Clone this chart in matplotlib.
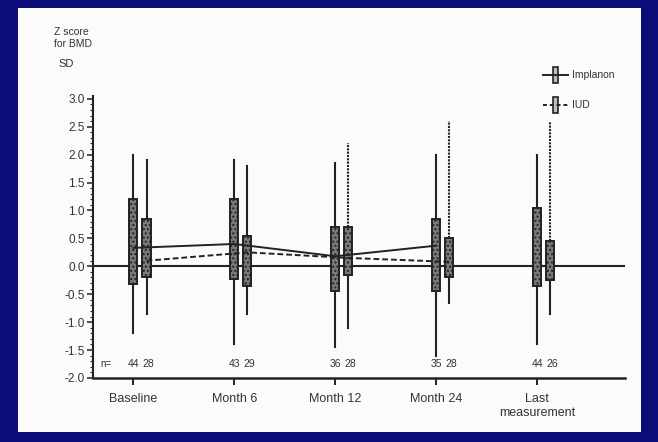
import matplotlib.pyplot as plt
from matplotlib.patches import Rectangle
from matplotlib.lines import Line2D

# Z score for BMD by visit, Implanon vs IUD
visits = ["Baseline", "Month 6", "Month 12", "Month 24", "Last\nmeasurement"]

# box-whisker summaries: low whisker, box bottom, box top, high whisker
impl_low = [-1.2, -1.4, -1.45, -1.6, -1.4]
impl_q1 = [-0.32, -0.22, -0.45, -0.45, -0.35]
impl_q3 = [1.2, 1.2, 0.7, 0.85, 1.05]
impl_high = [2.0, 1.9, 1.85, 2.0, 2.0]

iud_low = [-0.85, -0.85, -1.1, -0.65, -0.85]
iud_q1 = [-0.2, -0.35, -0.15, -0.2, -0.25]
iud_q3 = [0.85, 0.55, 0.7, 0.5, 0.45]
iud_high = [1.9, 1.8, 2.2, 2.6, 2.6]

# mean lines (first four visits)
impl_mean = [0.33, 0.4, 0.18, 0.37]
iud_mean = [0.1, 0.25, 0.15, 0.08]

n_impl = [44, 43, 36, 35, 44]
n_iud = [28, 29, 28, 28, 26]

ink = "#222222"
txt = "#333333"
plt.rcParams['font.family'] = ['Liberation Sans', 'DejaVu Sans']

fig = plt.figure(figsize=(6.58, 4.42), dpi=100)
fig.patch.set_facecolor("#0c0c78")
fig.add_artist(Rectangle((18 / 658, 10 / 442), 623 / 658, 424 / 442,
                         transform=fig.transFigure, facecolor="#fbfbfb",
                         edgecolor="none", zorder=0))

ax = fig.add_axes([93 / 658, 1 - 378 / 442, (625 - 93) / 658, (378 - 96) / 442])
ax.set_facecolor("none")
ax.set_xlim(0.6, 5.87)
ax.set_ylim(-2.0, 3.05)

off = 0.13
bw = 0.08
xs = [i + 1 for i in range(len(visits))]

# zero reference line
ax.axhline(0, color=ink, lw=1.5, zorder=2)


def draw_box(x, lo, q1, q3, hi, dotted_top=False):
    ax.plot([x, x], [lo, q1], color=ink, lw=1.5, zorder=3)
    ax.plot([x, x], [q3, hi], color=ink, lw=1.5, zorder=3,
            ls=(0, (1, 0.6)) if dotted_top else "-")
    ax.add_patch(Rectangle((x - bw / 2, q1), bw, q3 - q1, facecolor="#7a7a7a",
                           edgecolor=ink, lw=1.4, hatch="....", zorder=4))


for i, x in enumerate(xs):
    draw_box(x, impl_low[i], impl_q1[i], impl_q3[i], impl_high[i])
    draw_box(x + off, iud_low[i], iud_q1[i], iud_q3[i], iud_high[i],
             dotted_top=iud_high[i] > 2.1)
    ax.text(x, -1.75, str(n_impl[i]), ha="center", va="center", fontsize=7.5, color=txt)
    ax.text(x + off + 0.02, -1.75, str(n_iud[i]), ha="center", va="center", fontsize=7.5, color=txt)
ax.text(0.67, -1.75, "n=", ha="left", va="center", fontsize=7, color=txt)

ax.plot(xs[:4], impl_mean, color=ink, lw=1.4, zorder=5)
ax.plot([x + off for x in xs[:4]], iud_mean, color=ink, lw=1.4,
        ls=(0, (3, 1.5)), zorder=5)

# axes styling
for s in ["top", "right"]:
    ax.spines[s].set_visible(False)
ax.spines["left"].set_color(ink)
ax.spines["bottom"].set_color(ink)
ax.spines["left"].set_linewidth(1.5)
ax.spines["bottom"].set_linewidth(1.8)
ax.set_yticks([v / 2 for v in range(-4, 7)])
ax.set_yticklabels([f"{v / 2:.1f}" for v in range(-4, 7)])
ax.set_yticks([v / 10 for v in range(-20, 31)], minor=True)
ax.tick_params(axis="y", which="major", length=4, width=1.1, color=ink,
               labelsize=8.5, labelcolor=txt, pad=2)
ax.tick_params(axis="y", which="minor", length=2, width=0.8, color=ink)
ax.set_xticks(xs)
ax.set_xticklabels(visits)
ax.tick_params(axis="x", length=5, width=1.4, color=ink, labelsize=9,
               labelcolor=txt, pad=6)

fig.text(54 / 658, 1 - 38 / 442, "Z score\nfor BMD", fontsize=7.5, color=txt,
         ha="left", va="center", linespacing=1.2)
fig.text(58 / 658, 1 - 64 / 442, "SD", fontsize=8, color=txt, ha="left", va="center")

# legend
for yy, ls, lab in [(75, "-", "Implanon"), (105, (0, (2, 1.5)), "IUD")]:
    yf = 1 - yy / 442
    fig.add_artist(Line2D([543 / 658, 568 / 658], [yf, yf], color=ink, lw=1.4,
                          ls=ls, transform=fig.transFigure))
    fig.add_artist(Rectangle((553 / 658, yf - 8 / 442), 5 / 658, 16 / 442,
                             transform=fig.transFigure, facecolor="#bdbdbd",
                             edgecolor=ink, lw=1.2))
    fig.text(572 / 658, yf, lab, fontsize=7.5, color=txt, ha="left", va="center")

fig.savefig("out.png", dpi=100, facecolor=fig.get_facecolor())
